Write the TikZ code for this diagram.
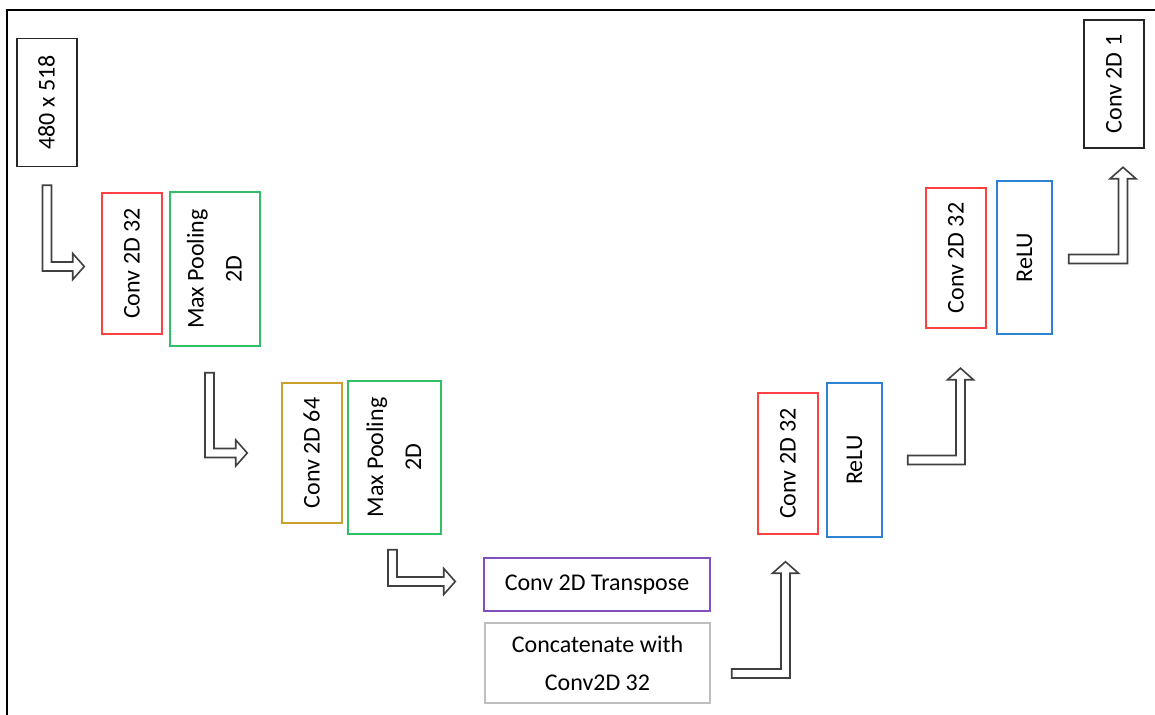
\documentclass[tikz,border=0pt]{standalone}
\usepackage{fontspec}
\setmainfont{Carlito}
\usepackage{graphicx}
\usetikzlibrary{calc}

\definecolor{convred}{RGB}{255,64,64}
\definecolor{poolgreen}{RGB}{50,190,100}
\definecolor{convgold}{RGB}{205,160,45}
\definecolor{transpurple}{RGB}{130,80,190}
\definecolor{relublue}{RGB}{45,130,210}
\definecolor{catgray}{RGB}{190,190,190}

% rotated (bottom-to-top) text for the tall boxes
\newcommand{\vtext}[1]{\rotatebox{90}{\begin{tabular}{@{}c@{}}#1\end{tabular}}}

% hollow L-shaped block arrows: #1 = tail, #2 = tip
\newcommand{\downright}[2]{%
  \draw[blockarrow] ($(#1)+(-4.5,0)$) |- ($(#2)+(-11.5,4.5)$) -- ($(#2)+(-11.5,13)$) -- (#2)
    -- ($(#2)+(-11.5,-13)$) -- ($(#2)+(-11.5,-4.5)$) -| ($(#1)+(4.5,0)$) -- cycle;}
\newcommand{\rightup}[2]{%
  \draw[blockarrow] ($(#1)+(0,-4.5)$) -| ($(#2)+(-4.5,11.5)$) -- ($(#2)+(-13,11.5)$) -- (#2)
    -- ($(#2)+(13,11.5)$) -- ($(#2)+(4.5,11.5)$) |- ($(#1)+(0,4.5)$) -- cycle;}

\begin{document}
\begin{tikzpicture}[
    x=0.5pt, y=-0.5pt,
    box/.style={rectangle, line width=0.75pt, fill=white, inner sep=0pt, align=center, font=\fontsize{12}{19}\selectfont},
    iobox/.style={box, draw=black!85, minimum width=30pt, minimum height=64pt},
    convbox/.style={box, draw=convred, minimum width=30pt, minimum height=70.5pt},
    poolbox/.style={box, draw=poolgreen, minimum width=45pt, minimum height=77pt},
    relubox/.style={box, draw=relublue, minimum width=27.5pt, minimum height=77pt},
    blockarrow/.style={draw=black!75, line width=0.8pt, fill=white, line join=miter}
]
    \useasboundingbox (0,0) rectangle (1155,715);
    % frame (only left and top edges show)
    \draw[line width=1pt] (7,715) |- (1155,10);

    % encoder
    \node[iobox]   (inp) at (47,102.5) {\vtext{480 x 518}};
    \node[convbox] (c1)  at (132,263.5) {\vtext{Conv 2D 32}};
    \node[poolbox] (mp1) at (215,269) {\vtext{Max Pooling\\2D}};
    \node[convbox, draw=convgold, minimum height=70pt] (c2) at (312,453) {\vtext{Conv 2D 64}};
    \node[poolbox, minimum width=46.5pt, minimum height=76.5pt] (mp2) at (394.5,457.5) {\vtext{Max Pooling\\2D}};

    % bottom
    \node[box, draw=transpurple, minimum width=113pt, minimum height=26.5pt] (tr) at (597,584.5) {Conv 2D Transpose};
    \node[box, draw=catgray, minimum width=112.5pt, minimum height=40pt] (cat) at (597.5,663) {Concatenate with\\Conv2D 32};

    % decoder
    \node[convbox] (c3) at (788,463.5) {\vtext{Conv 2D 32}};
    \node[relubox] (r1) at (854.5,460) {\vtext{ReLU}};
    \node[convbox, minimum height=70pt] (c4) at (956,258) {\vtext{Conv 2D 32}};
    \node[relubox, minimum height=76.5pt] (r2) at (1024.5,257.5) {\vtext{ReLU}};
    \node[iobox] (out) at (1114,84) {\vtext{Conv 2D 1}};

    % arrow ends
    \coordinate (a1s) at ($(inp.south)+(0,18)$);
    \coordinate (a1e) at ($(c1.west)+(-17,3)$);
    \coordinate (a2s) at ($(mp1.south)+(-5.5,26)$);
    \coordinate (a2e) at ($(c2.west)+(-34,0)$);
    \coordinate (a3s) at ($(mp2.south)+(-2,15)$);
    \coordinate (a3e) at ($(tr.west)+(-28,-3)$);
    \coordinate (a4s) at ($(cat.east)+(21,10.5)$);
    \coordinate (a4e) at ($(c3.south)+(-2.5,27)$);
    \coordinate (a5s) at ($(r1.east)+(25,0)$);
    \coordinate (a5e) at ($(c4.south)+(4.5,39.5)$);
    \coordinate (a6s) at ($(r2.east)+(16,1.5)$);
    \coordinate (a6e) at ($(out.south)+(9,18.5)$);

    \downright{a1s}{a1e}
    \downright{a2s}{a2e}
    \downright{a3s}{a3e}
    \rightup{a4s}{a4e}
    \rightup{a5s}{a5e}
    \rightup{a6s}{a6e}
\end{tikzpicture}
\end{document}
